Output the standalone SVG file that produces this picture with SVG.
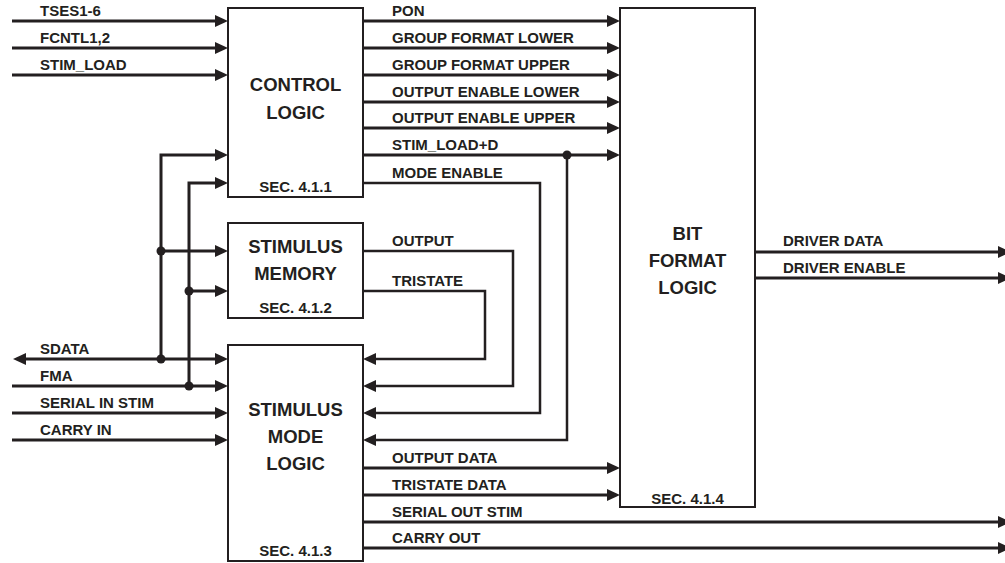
<svg xmlns="http://www.w3.org/2000/svg" width="1005" height="563" viewBox="0 0 1005 563">
<style>
.box{fill:#fff;stroke:#231f20;stroke-width:2}
.ln{fill:none;stroke:#231f20;stroke-width:3}
.thin{fill:none;stroke:#231f20;stroke-width:2.5}
.arr{marker-end:url(#ah)}
.lbl{font-family:"Liberation Sans",Arial,sans-serif;font-weight:bold;font-size:15px;fill:#231f20}
.ttl{font-family:"Liberation Sans",Arial,sans-serif;font-weight:bold;font-size:18.5px;fill:#231f20;text-anchor:middle}
.sec{font-family:"Liberation Sans",Arial,sans-serif;font-weight:bold;font-size:15px;fill:#231f20;text-anchor:middle}
.dot{fill:#231f20}
</style>
<defs>
<marker id="ah" markerWidth="14" markerHeight="12" refX="3" refY="6" orient="auto-start-reverse" markerUnits="userSpaceOnUse">
<path d="M0,0 L13,6 L0,12 Z" fill="#231f20"/>
</marker>
</defs>
<rect width="1005" height="563" fill="#fff"/>
<g id="connectors">
<path class="ln arr" d="M12,21 H218"/>
<path class="ln arr" d="M12,48 H218"/>
<path class="ln arr" d="M12,75 H218"/>
<path class="ln arr" d="M161,359 V155 H218"/>
<path class="ln arr" d="M189,386 V183 H218"/>
<path class="ln arr" d="M161,251 H218"/>
<path class="ln arr" d="M189,291 H218"/>
<path class="ln arr" d="M23,359 H218" marker-start="url(#ah)"/>
<path class="ln arr" d="M12,386 H218"/>
<path class="ln arr" d="M12,413 H218"/>
<path class="ln arr" d="M12,440 H218"/>
<path class="ln arr" d="M363,21 H610"/>
<path class="ln arr" d="M363,48 H610"/>
<path class="ln arr" d="M363,75 H610"/>
<path class="ln arr" d="M363,102 H610"/>
<path class="ln arr" d="M363,128 H610"/>
<path class="ln arr" d="M363,155 H610"/>
<path class="thin arr" d="M363,183 H540 V413 H373"/>
<path class="thin arr" d="M567,155 V440 H373"/>
<path class="thin arr" d="M363,251 H513 V386 H373"/>
<path class="thin arr" d="M363,291 H485 V359 H373"/>
<path class="ln arr" d="M363,468 H610"/>
<path class="ln arr" d="M363,495 H610"/>
<path class="ln arr" d="M363,522 H1001"/>
<path class="ln arr" d="M363,548 H1001"/>
<path class="ln arr" d="M755,252 H1001"/>
<path class="ln arr" d="M755,278 H1001"/>
<circle class="dot" cx="161" cy="251" r="4.5"/>
<circle class="dot" cx="189" cy="291" r="4.5"/>
<circle class="dot" cx="161" cy="359" r="4.5"/>
<circle class="dot" cx="189" cy="386" r="4.5"/>
<circle class="dot" cx="567" cy="155" r="4.5"/>
</g>
<g id="labels">
<text class="lbl" x="40" y="16">TSES1-6</text>
<text class="lbl" x="40" y="43">FCNTL1,2</text>
<text class="lbl" x="40" y="70">STIM_LOAD</text>
<text class="lbl" x="40" y="354">SDATA</text>
<text class="lbl" x="40" y="381">FMA</text>
<text class="lbl" x="40" y="408">SERIAL IN STIM</text>
<text class="lbl" x="40" y="435">CARRY IN</text>
<text class="lbl" x="392" y="16">PON</text>
<text class="lbl" x="392" y="43">GROUP FORMAT LOWER</text>
<text class="lbl" x="392" y="70">GROUP FORMAT UPPER</text>
<text class="lbl" x="392" y="97">OUTPUT ENABLE LOWER</text>
<text class="lbl" x="392" y="123">OUTPUT ENABLE UPPER</text>
<text class="lbl" x="392" y="150">STIM_LOAD+D</text>
<text class="lbl" x="392" y="178">MODE ENABLE</text>
<text class="lbl" x="392" y="246">OUTPUT</text>
<text class="lbl" x="392" y="286">TRISTATE</text>
<text class="lbl" x="392" y="463">OUTPUT DATA</text>
<text class="lbl" x="392" y="490">TRISTATE DATA</text>
<text class="lbl" x="392" y="517">SERIAL OUT STIM</text>
<text class="lbl" x="392" y="543">CARRY OUT</text>
<text class="lbl" x="783" y="246">DRIVER DATA</text>
<text class="lbl" x="783" y="273">DRIVER ENABLE</text>
</g>
<g id="control-logic">
<rect class="box" x="228" y="8" width="135" height="189"/>
<text class="ttl" x="295.5" y="91">CONTROL</text>
<text class="ttl" x="295.5" y="119">LOGIC</text>
<text class="sec" x="295.5" y="192">SEC. 4.1.1</text>
</g>
<g id="stimulus-memory">
<rect class="box" x="228" y="223" width="135" height="95"/>
<text class="ttl" x="295.5" y="253">STIMULUS</text>
<text class="ttl" x="295.5" y="280">MEMORY</text>
<text class="sec" x="295.5" y="313">SEC. 4.1.2</text>
</g>
<g id="stimulus-mode-logic">
<rect class="box" x="228" y="345" width="135" height="216"/>
<text class="ttl" x="295.5" y="416">STIMULUS</text>
<text class="ttl" x="295.5" y="443">MODE</text>
<text class="ttl" x="295.5" y="470">LOGIC</text>
<text class="sec" x="295.5" y="556">SEC. 4.1.3</text>
</g>
<g id="bit-format-logic">
<rect class="box" x="620" y="8" width="135" height="499"/>
<text class="ttl" x="687.5" y="240">BIT</text>
<text class="ttl" x="687.5" y="267">FORMAT</text>
<text class="ttl" x="687.5" y="294">LOGIC</text>
<text class="sec" x="687.5" y="504">SEC. 4.1.4</text>
</g>
</svg>
